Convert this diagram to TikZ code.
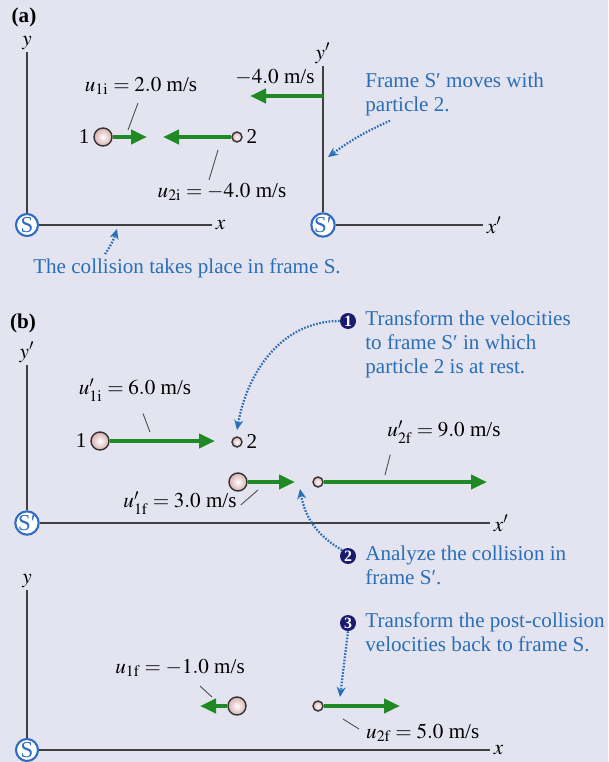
\documentclass[tikz,border=0pt]{standalone}
\usepackage{mathptmx}
\usepackage[no-math]{fontspec}
\setmainfont{Liberation Serif}
\usepackage{xcolor}
\usepackage{tikz}
\usetikzlibrary{arrows.meta, positioning, calc}
\definecolor{pagebg}{HTML}{E3E4EF}
\definecolor{noteblue}{HTML}{2A6EB8}
\definecolor{ringblue}{HTML}{2F6CC4}
\definecolor{velgreen}{HTML}{1F8A24}
\definecolor{stepnavy}{HTML}{1A1A6E}
\definecolor{ballpink}{HTML}{D9AFAF}

\tikzset{
  frameref/.style={circle, draw=ringblue, line width=1.2pt, fill=white, text=ringblue,
    inner sep=0pt, minimum size=4.4mm, font=\fontsize{13}{13}\selectfont},
  axisline/.style={draw=black!75, line width=0.8pt},
  bigball/.style={circle, draw=black!80, line width=0.8pt, shading=radial,
    inner color=white, outer color=ballpink, minimum size=3.6mm, inner sep=0pt},
  smallball/.style={bigball, minimum size=2mm},
  velarrow/.style={draw=velgreen, line width=2.4pt, -{Triangle[length=3.2mm, width=2.8mm]}},
  leader/.style={draw=black!70, line width=0.5pt},
  callout/.style={draw=noteblue, line width=1.3pt, dash pattern=on 0.9pt off 0.9pt,
    -{Stealth[length=2mm, width=1.8mm]}},
  note/.style={text=noteblue, align=left, anchor=north west, inner sep=0pt},
  stepnum/.style={circle, fill=stepnavy, text=white, inner sep=0pt, minimum size=3.2mm,
    font=\bfseries\fontsize{9}{9}\selectfont},
  tag/.style={font=\bfseries\fontsize{12}{13}\selectfont},
}

\begin{document}
\begin{tikzpicture}[x=0.2mm, y=-0.2mm, font=\fontsize{12}{13.6}\selectfont]
    \fill[pagebg] (0,0) rectangle (608,762);
    \useasboundingbox (0,0) rectangle (608,762);

    % (a) frames S and S'
    \node[tag] (tagA) at (24,17) {(a)};
    \node[frameref] (SA) at (27,225) {S};
    \coordinate (SAx) at (212,225);
    \coordinate (SAy) at (27,52);
    \draw[axisline] (SA) -- (SAx);
    \draw[axisline] (SA) -- (SAy);
    \node[right=1pt of SAx, inner sep=1pt] (SAxl) {$x$};
    \node[above=0pt of SAy, inner sep=1pt] (SAyl) {$y$};

    \node[frameref] (SpA) at (323,225) {S′};
    \coordinate (SpAx) at (483,225);
    \coordinate (SpAy) at (323,66);
    \draw[axisline] (SpA) -- (SpAx);
    \draw[axisline] (SpA) -- (SpAy);
    \node[right=1pt of SpAx, inner sep=1pt] (SpAxl) {$x'$};
    \node[above=0pt of SpAy, inner sep=1pt] (SpAyl) {$y'$};

    % velocity of the moving frame
    \coordinate (vfA) at (323,96);
    \coordinate (vfAend) at (250,96);
    \draw[velarrow] (vfA) -- (vfAend);
    \node (vfAl) at (275,77) {$-4.0$ m/s};

    % particles before the collision
    \node[bigball] (p1A) at (103,137) {};
    \node[left=1pt of p1A, inner sep=1pt] (n1A) {1};
    \node[smallball] (p2A) at (237,137) {};
    \node[right=1pt of p2A, inner sep=1pt] (n2A) {2};
    \coordinate (v1A) at (147,137);
    \coordinate (v2A) at (163,137);
    \draw[velarrow] (p1A) -- (v1A);
    \draw[velarrow] (p2A) -- (v2A);

    \node (u1iA) at (141,86) {$u_{1\mathrm{i}} = 2.0$ m/s};
    \coordinate (u1iAend) at (128,130);
    \draw[leader] ($(u1iA.south)+(-3,2)$) -- (u1iAend);
    \node (u2iA) at (222,192) {$u_{2\mathrm{i}} = -4.0$ m/s};
    \coordinate (u2iAtop) at (218,150);
    \draw[leader] (u2iAtop) -- ($(u2iA.north)+(-13,3)$);

    % notes
    \node[note] (noteSp) at (365,73) {Frame S′ moves with\\particle 2.};
    \coordinate (noteSpTip) at (328,157);
    \draw[callout] ($(noteSp.south west)+(25,4)$) to[bend right=6] (noteSpTip);

    \node[text=noteblue] (noteS) at (187,268) {The collision takes place in frame S.};
    \coordinate (noteSTip) at (117,229);
    \draw[callout] ($(noteS.north west)+(78,2)$) to[bend right=8] (noteSTip);

    % (b) frame S'
    \node[tag] (tagB) at (23,323) {(b)};
    \node[frameref] (SpB) at (27,523) {S′};
    \coordinate (SpBx) at (490,523);
    \coordinate (SpBy) at (27,365);
    \draw[axisline] (SpB) -- (SpBx);
    \draw[axisline] (SpB) -- (SpBy);
    \node[right=1pt of SpBx, inner sep=1pt] (SpBxl) {$x'$};
    \node[above=0pt of SpBy, inner sep=1pt] (SpByl) {$y'$};

    \node[bigball] (p1B) at (100,441) {};
    \node[left=1pt of p1B, inner sep=1pt] (n1B) {1};
    \node[smallball] (p2B) at (237,442) {};
    \node[right=1pt of p2B, inner sep=1pt] (n2B) {2};
    \coordinate (v1B) at (215,441);
    \draw[velarrow] (p1B) -- (v1B);
    \node (u1iB) at (135,390) {$u'_{1\mathrm{i}} = 6.0$ m/s};
    \coordinate (u1iBend) at (150,432);
    \draw[leader] ($(u1iB.south)+(8,6)$) -- (u1iBend);

    \node[bigball] (p1C) at (238,482) {};
    \node[smallball] (p2C) at (318,482) {};
    \coordinate (v1C) at (295,482);
    \coordinate (v2C) at (487,482);
    \draw[velarrow] (p1C) -- (v1C);
    \draw[velarrow] (p2C) -- (v2C);
    \node (u1fB) at (180,503) {$u'_{1\mathrm{f}} = 3.0$ m/s};
    \coordinate (u1fBend) at (258,490);
    \draw[leader] ($(u1fB.east)+(-2,2)$) -- (u1fBend);
    \node (u2fB) at (444,432) {$u'_{2\mathrm{f}} = 9.0$ m/s};
    \coordinate (u2fBend) at (385,475);
    \draw[leader] ($(u2fB.south west)+(9,5)$) -- (u2fBend);

    % steps
    \node[stepnum] (step1) at (348,321) {1};
    \node[note] (note1) at (365,310) {Transform the velocities\\to frame S′ in which\\particle 2 is at rest.};
    \coordinate (step1Tip) at (237,430);
    \draw[callout] (step1.west) to[out=180, in=80] (step1Tip);

    \node[stepnum] (step2) at (348,556) {2};
    \node[note] (note2) at (365,546) {Analyze the collision in\\frame S′.};
    \coordinate (step2Tip) at (300,489);
    \draw[callout] (step2.north west) to[out=150, in=-80] (step2Tip);

    \node[stepnum] (step3) at (348,623) {3};
    \node[note] (note3) at (365,612) {Transform the post-collision\\velocities back to frame S.};
    \coordinate (step3Tip) at (340,697);
    \draw[callout] (step3.south) -- (step3Tip);

    % frame S after the collision
    \node[frameref] (SD) at (27,750) {S};
    \coordinate (SDx) at (490,750);
    \coordinate (SDy) at (27,590);
    \draw[axisline] (SD) -- (SDx);
    \draw[axisline] (SD) -- (SDy);
    \node[right=1pt of SDx, inner sep=1pt] (SDxl) {$x$};
    \node[above=0pt of SDy, inner sep=1pt] (SDyl) {$y$};

    \node[bigball] (p1D) at (237,706) {};
    \node[smallball] (p2D) at (318,706) {};
    \coordinate (v1D) at (200,706);
    \coordinate (v2D) at (400,706);
    \draw[velarrow] (p1D) -- (v1D);
    \draw[velarrow] (p2D) -- (v2D);
    \node (u1fD) at (180,668) {$u_{1\mathrm{f}} = -1.0$ m/s};
    \coordinate (u1fDend) at (212,697);
    \draw[leader] ($(u1fD.south)+(20,3)$) -- (u1fDend);
    \node[anchor=west] (u2fD) at (360,733) {$u_{2\mathrm{f}} = 5.0$ m/s};
    \coordinate (u2fDtop) at (343,719);
    \draw[leader] (u2fDtop) -- ($(u2fD.west)+(-1,-4)$);
\end{tikzpicture}
\end{document}
